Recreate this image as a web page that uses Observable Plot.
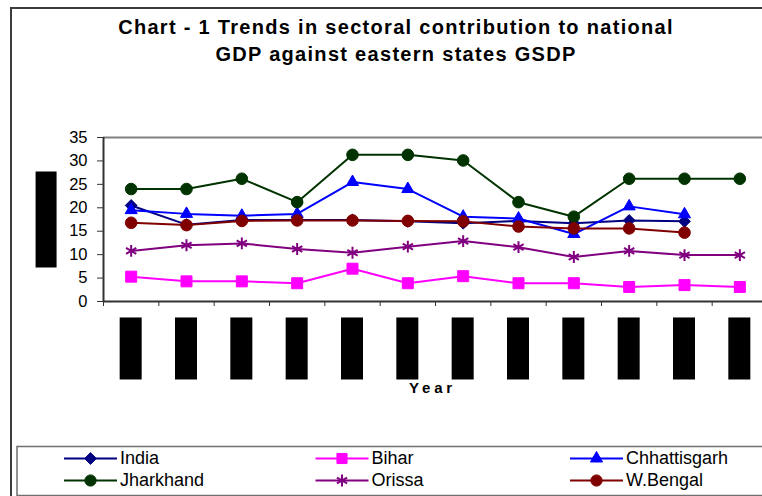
<!DOCTYPE html>
<html><head><meta charset="utf-8">
<script src="https://cdn.jsdelivr.net/npm/d3@7"></script>
<script src="https://cdn.jsdelivr.net/npm/@observablehq/plot@0.6"></script>
<style>
html,body{margin:0;padding:0;background:#fff;}
#chart{position:relative;width:762px;height:496px;overflow:hidden;background:#fff;font-family:"Liberation Sans",Arial,sans-serif;}
#outer{position:absolute;left:10px;top:7px;width:900px;height:600px;border:2px solid #3c3c3c;box-sizing:border-box;}
#title{position:absolute;left:0;top:14px;width:792px;text-align:center;font-weight:bold;font-size:20px;line-height:27px;letter-spacing:1.3px;color:#000;}
#plot{position:absolute;left:0;top:120px;width:800px;height:290px;}
#plot svg{max-width:none !important;}
#legend{position:absolute;left:0;top:0;pointer-events:none;}
</style></head><body>
<div id="chart">
  <div id="outer"></div>
  <div id="title">Chart - 1 Trends in sectoral contribution to national<br>GDP against eastern states GSDP</div>
  <div id="plot"></div>
  <svg id="legend" width="762" height="496"></svg>
</div>
<script>
// ---- data ----
const years = ["1993-94","1994-95","1995-96","1996-97","1997-98","1998-99","1999-00","2000-01","2001-02","2002-03","2003-04","2004-05"];
const yTicks = [0, 5, 10, 15, 20, 25, 30, 35];
const yLabel = "Percentage";
const xLabel = "Year";
const seriesNames = ["India", "Bihar", "Chhattisgarh", "Jharkhand", "Orissa", "W.Bengal"];
const india        = [20.5, 16.4, 17.4, 17.4, 17.4, 17.1, 16.7, 17.2, 16.7, 17.3, 17.1, null];
const bihar        = [5.3, 4.3, 4.3, 3.9, 7.0, 3.9, 5.4, 3.9, 3.9, 3.1, 3.5, 3.1];
const chhattisgarh = [19.5, 18.7, 18.3, 18.7, 25.5, 24.0, 18.1, 17.7, 14.4, 20.3, 18.6, null];
const jharkhand    = [24.0, 24.0, 26.2, 21.2, 31.3, 31.3, 30.1, 21.2, 18.1, 26.2, 26.2, 26.2];
const orissa       = [10.8, 12.0, 12.4, 11.2, 10.4, 11.7, 12.9, 11.6, 9.5, 10.8, 9.9, 9.9];
const wbengal      = [16.8, 16.3, 17.2, 17.3, 17.3, 17.2, 17.1, 16.0, 15.6, 15.6, 14.7, null];

const seriesValues = [india, bihar, chhattisgarh, jharkhand, orissa, wbengal];
const styles = [
  {color: "#000080", symbol: "diamond2", r: 5.3, lr: 5.3},
  {color: "#FF00FF", symbol: "square",   r: 6.2, lr: 5.7},
  {color: "#0000FF", symbol: "triangle", r: 4.5, lr: 4.5},
  {color: "#003300", symbol: "circle",   r: 5.8, lr: 5.6},
  {color: "#800080", symbol: "asterisk", r: 5.6, lr: 5.6},
  {color: "#800000", symbol: "circle",   r: 5.8, lr: 5.6}
];

const rowsOf = vals => vals.map((v, i) => ({i, v})).filter(d => d.v != null);
const bounds = d3.range(-0.5, years.length, 1);

const seriesMarks = [];
seriesValues.forEach((vals, k) => {
  const s = styles[k], rows = rowsOf(vals);
  seriesMarks.push(Plot.line(rows, {x: "i", y: "v", stroke: s.color, strokeWidth: 2}));
  seriesMarks.push(Plot.dot(rows, {
    x: "i", y: "v", symbol: s.symbol, r: s.r,
    fill: s.symbol === "asterisk" ? "none" : s.color,
    stroke: s.color, strokeWidth: s.symbol === "asterisk" ? 2 : 1
  }));
});

const plot = Plot.plot({
  width: 800, height: 290,
  marginLeft: 103, marginRight: 33, marginTop: 17, marginBottom: 109,
  x: {type: "linear", domain: [-0.5, years.length - 0.5]},
  y: {domain: [0, 35]},
  style: {fontFamily: '"Liberation Sans", Arial, sans-serif', fontSize: "16.5px", color: "#000", background: "transparent", overflow: "visible", maxWidth: "none"},
  marks: [
    Plot.ruleY([35], {stroke: "#808080", strokeWidth: 2}),
    Plot.axisY({ticks: yTicks, tickSize: 6, tickPadding: 10, label: null, stroke: "#333", fontSize: 16.5}),
    Plot.axisX({ticks: bounds, tickSize: 5, tickFormat: () => "", label: null, stroke: "#333"}),
    Plot.ruleX([-0.5], {stroke: "#333", strokeWidth: 2}),
    Plot.ruleY([0], {stroke: "#333", strokeWidth: 2}),
    ...seriesMarks,
    Plot.text(years, {x: (d, i) => i, text: d => d, frameAnchor: "bottom", dx: 6.5, dy: 16, rotate: -90, textAnchor: "end", fontSize: 19.7, fill: "#000"}),
    Plot.text([yLabel], {frameAnchor: "left", dx: -57, rotate: -90, textAnchor: "middle", fontSize: 19, fill: "#000"}),
    Plot.text([xLabel], {frameAnchor: "bottom", dx: -3, dy: 91, fontWeight: "bold", fontSize: 15, fill: "#000"})
  ]
});
document.getElementById("plot").appendChild(plot);

// redaction boxes over the tick labels and y label (the text itself stays in the DOM)
const ns = "http://www.w3.org/2000/svg";
function blackBox(t, len) {
  t.setAttribute("textLength", len);
  t.setAttribute("lengthAdjust", "spacingAndGlyphs");
  const b = t.getBBox();
  const r = document.createElementNS(ns, "rect");
  r.setAttribute("x", b.x); r.setAttribute("y", b.y);
  r.setAttribute("width", b.width); r.setAttribute("height", b.height);
  r.setAttribute("fill", "#000");
  const tr = t.getAttribute("transform");
  if (tr) r.setAttribute("transform", tr);
  t.setAttribute("fill-opacity", 0);
  t.parentNode.insertBefore(r, t.nextSibling);
}
plot.querySelectorAll("text").forEach(t => {
  const s = t.textContent;
  if (years.includes(s)) blackBox(t, 62);
  else if (s === yLabel) blackBox(t, 96);
  else if (s === xLabel) t.style.letterSpacing = "3.8px";
});

// ---- legend ----
const lg = d3.select("#legend");
lg.append("rect").attr("x", 17).attr("y", 446.5).attr("width", 800).attr("height", 49)
  .attr("fill", "#fff").attr("stroke", "#707070").attr("stroke-width", 1.5);
const symMap = {diamond2: d3.symbolDiamond2, square: d3.symbolSquare, triangle: d3.symbolTriangle, circle: d3.symbolCircle, asterisk: d3.symbolAsterisk};
const colX = [64, 315.5, 570], rowY = [458.5, 480.5];
seriesNames.forEach((name, k) => {
  const s = styles[k];
  const x0 = colX[k % 3], y = rowY[Math.floor(k / 3)];
  const g = lg.append("g");
  g.append("line").attr("x1", x0).attr("x2", x0 + 53).attr("y1", y).attr("y2", y)
    .attr("stroke", s.color).attr("stroke-width", 2);
  g.append("path").attr("transform", `translate(${x0 + 26.5},${y})`)
    .attr("d", d3.symbol(symMap[s.symbol], Math.PI * s.lr * s.lr)())
    .attr("fill", s.symbol === "asterisk" ? "none" : s.color)
    .attr("stroke", s.color).attr("stroke-width", s.symbol === "asterisk" ? 2 : 1);
  g.append("text").attr("x", x0 + 56).attr("y", y + 5.3)
    .attr("font-family", '"Liberation Sans", Arial, sans-serif').attr("font-size", 18)
    .attr("fill", "#000").text(name);
});
</script>
</body></html>
